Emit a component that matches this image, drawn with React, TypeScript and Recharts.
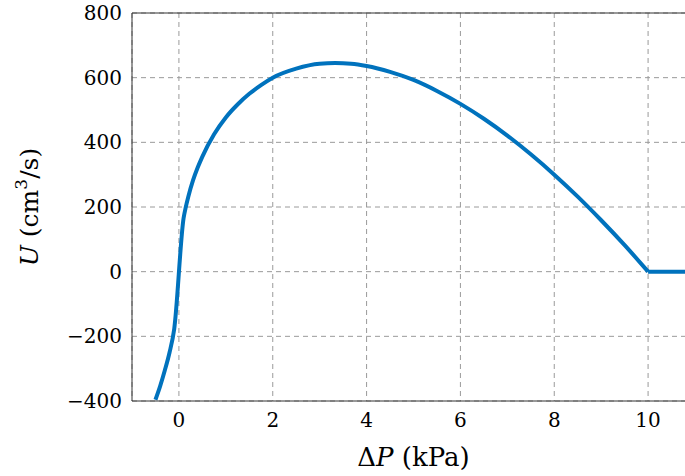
import { LineChart, Line, XAxis, YAxis, CartesianGrid, ReferenceLine, Label } from "recharts";

// pressure difference (kPa) and flow (cm^3/s)
const dp = [-0.5, -0.4, -0.3, -0.2, -0.1, 0.1, 0.15, 0.2, 0.3, 0.4, 0.5, 0.75, 1.0, 1.25, 1.5, 1.75, 2.0, 2.5, 3.0, 3.33, 3.67, 4.0, 4.5, 5.0, 5.5, 6.0, 6.5, 7.0, 7.5, 8.0, 8.5, 9.0, 9.5, 10.0];
const flow = [-396, -354, -305, -250, -177, 166, 202, 232, 282, 322, 356, 425, 477, 517, 550, 577, 600, 628, 643, 645, 643, 636, 618, 593, 559, 519, 473, 421, 363, 300, 232, 159, 82, 0];
// valve closed above 10 kPa
const closedDp = [10, 11];
const closedFlow = [0, 0];

const xTicks = [0, 2, 4, 6, 8, 10];
const yTicks = [-400, -200, 0, 200, 400, 600, 800];

const curve = dp.map((x, i) => ({ x, u: flow[i] }));
const flat = closedDp.map((x, i) => ({ x, u: closedFlow[i] }));

const font = "DejaVu Serif";
const tickStyle = { fill: "#000", fontSize: 20, fontFamily: font };
const minus = (v: number) => (v < 0 ? `\u2212${-v}` : `${v}`);

export default function App() {
  return (
    <div style={{ position: "absolute", left: 0, top: 0, width: 685, height: 476, overflow: "hidden", background: "#fff" }}>
      <LineChart width={695} height={476} margin={{ top: 13, right: 0, left: 0, bottom: 0 }}>
        <CartesianGrid stroke="#9a9a9a" strokeDasharray="5 4" />
        <XAxis
          type="number"
          dataKey="x"
          domain={[-1, 11]}
          ticks={xTicks}
          allowDuplicatedCategory={false}
          height={75}
          tickSize={0}
          tickMargin={12}
          tick={tickStyle}
          axisLine={{ stroke: "#333" }}
          tickLine={false}
        >
          <Label
            content={({ viewBox }: any) => (
              <text
                x={viewBox.x + viewBox.width / 2}
                y={viewBox.y + 65}
                textAnchor="middle"
                fontFamily={font}
                fontSize={26}
                fill="#000"
              >
                {"\u0394"}
                <tspan fontStyle="italic">P</tspan> (kPa)
              </text>
            )}
          />
        </XAxis>
        <YAxis
          type="number"
          domain={[-400, 800]}
          ticks={yTicks}
          width={132}
          tickSize={0}
          tickMargin={10}
          tick={tickStyle}
          tickFormatter={minus}
          axisLine={{ stroke: "#333" }}
          tickLine={false}
        >
          <Label
            content={({ viewBox }: any) => {
              const cx = 38;
              const cy = viewBox.y + viewBox.height / 2;
              return (
                <text
                  x={cx}
                  y={cy}
                  transform={`rotate(-90, ${cx}, ${cy})`}
                  textAnchor="middle"
                  fontFamily={font}
                  fontSize={25}
                  fill="#000"
                >
                  <tspan fontStyle="italic">U</tspan> (cm
                  <tspan fontSize={17} dy={-11}>3</tspan>
                  <tspan dy={11}>/s)</tspan>
                </text>
              );
            }}
          />
        </YAxis>
        <ReferenceLine y={800} stroke="#333" strokeWidth={1} />
        <Line
          data={curve}
          dataKey="u"
          type="monotone"
          stroke="#0072bd"
          strokeWidth={4}
          dot={false}
          isAnimationActive={false}
        />
        <Line
          data={flat}
          dataKey="u"
          type="linear"
          stroke="#0072bd"
          strokeWidth={4}
          dot={false}
          isAnimationActive={false}
        />
      </LineChart>
    </div>
  );
}
